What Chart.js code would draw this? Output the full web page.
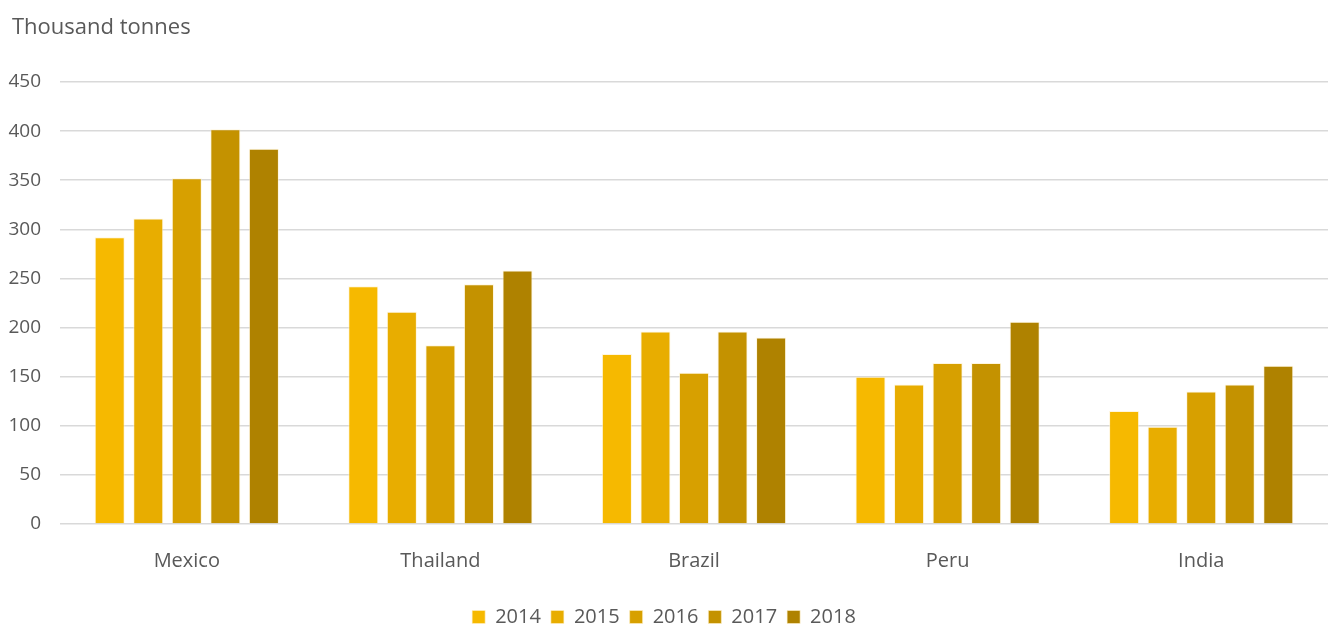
<!DOCTYPE html>
<html>
<head>
<meta charset="utf-8">
<script src="https://cdn.jsdelivr.net/npm/chart.js@4/dist/chart.umd.min.js"></script>
<style>
  html, body { margin: 0; padding: 0; background: #ffffff; }
  #wrap { width: 1328px; height: 626px; position: relative; }
</style>
</head>
<body>
<div id="wrap"><canvas id="prodChart"></canvas></div>
<script>
// Production by country, thousand tonnes
const countries = ['Mexico', 'Thailand', 'Brazil', 'Peru', 'India'];
const years = ['2014', '2015', '2016', '2017', '2018'];
const values2014 = [292, 242, 173, 150, 115];
const values2015 = [311, 216, 196, 142, 99];
const values2016 = [352, 182, 154, 164, 135];
const values2017 = [402, 244, 196, 164, 142];
const values2018 = [382, 258, 190, 206, 161];
const yTicks = [0, 50, 100, 150, 200, 250, 300, 350, 400, 450];
const unitLabel = 'Thousand tonnes';

const yearColors = ['#F6B900', '#E8AD00', '#D7A000', '#C49200', '#AF8200'];
const seriesValues = [values2014, values2015, values2016, values2017, values2018];

const textColor = '#595959';
const fontFamily = '"Open Sans", "Noto Sans", sans-serif';

// unit caption in the top-left corner
const unitCaption = {
  id: 'unitCaption',
  afterDraw(chart) {
    const c = chart.ctx;
    c.save();
    c.fillStyle = textColor;
    c.font = '22px ' + fontFamily;
    c.textAlign = 'left';
    c.textBaseline = 'middle';
    c.fillText(unitLabel, 12, 28);
    c.restore();
  }
};

const datasets = years.map((yr, i) => ({
  label: yr,
  data: seriesValues[i],
  backgroundColor: yearColors[i],
  borderColor: 'rgba(255, 240, 200, 0.6)',
  borderWidth: 1,
  categoryPercentage: 0.76,
  barPercentage: 0.78
}));

const ctx = document.getElementById('prodChart').getContext('2d');
new Chart(ctx, {
  type: 'bar',
  data: { labels: countries, datasets: datasets },
  plugins: [unitCaption],
  options: {
    responsive: true,
    maintainAspectRatio: false,
    animation: false,
    layout: { padding: { left: 0, right: 0, top: 82, bottom: -11 } },
    plugins: {
      legend: {
        position: 'bottom',
        labels: {
          color: textColor,
          font: { family: fontFamily, size: 20 },
          boxWidth: 13,
          boxHeight: 13,
          padding: 10
        }
      },
      tooltip: { enabled: false }
    },
    scales: {
      x: {
        grid: { display: false },
        border: { display: false },
        afterFit: (axis) => { axis.height += 7; },
        ticks: {
          color: textColor,
          font: { family: fontFamily, size: 20 },
          padding: 17
        }
      },
      y: {
        min: 0,
        max: 450,
        afterBuildTicks: (axis) => {
          axis.ticks = yTicks.map(v => ({ value: v }));
        },
        afterFit: (axis) => { axis.width = 60; },
        grid: { color: '#d9d9d9', lineWidth: 1.5, drawTicks: false },
        border: { display: false },
        ticks: {
          color: textColor,
          font: { family: fontFamily, size: 19 },
          padding: 19
        }
      }
    }
  }
});
</script>
</body>
</html>
